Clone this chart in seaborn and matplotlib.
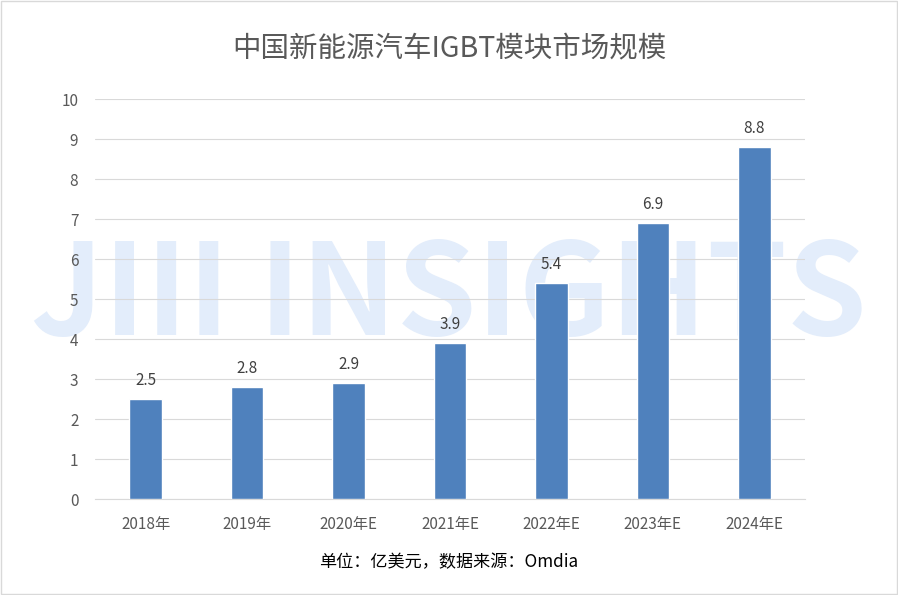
import matplotlib
matplotlib.use("Agg")
import matplotlib.pyplot as plt
import seaborn as sns
import pandas as pd

years = ["2018年", "2019年", "2020年E", "2021年E", "2022年E", "2023年E", "2024年E"]
values = [2.5, 2.8, 2.9, 3.9, 5.4, 6.9, 8.8]

sns.set_style("white")
plt.rcParams['font.family'] = ['Noto Sans CJK SC', 'DejaVu Sans']

df = pd.DataFrame({"year": years, "value": values})

fig = plt.figure(figsize=(8.98, 5.95), dpi=100)
ax = fig.add_axes([95 / 898, 96 / 595, 710 / 898, 400 / 595])

# watermark behind the bars
ax.text(0.5, 0.5, "JIII INSIGHTS", fontsize=92, fontweight="bold",
        color="#e3edfb", ha="center", va="center", zorder=0,
        transform=fig.transFigure)

sns.barplot(data=df, x="year", y="value", color="#4f81bd", saturation=1,
            width=0.32, ax=ax, zorder=3)
ax.set_ylim(0, 10)
ax.set_yticks(range(0, 11))
ax.yaxis.grid(True, color="#d9d9d9", linewidth=0.8, zorder=1)
for s in ["top", "right", "left"]:
    ax.spines[s].set_visible(False)
ax.spines["bottom"].set_color("#d9d9d9")
ax.tick_params(axis="both", length=0, labelsize=11, colors="#595959", pad=12)
ax.set_xlabel("")
ax.set_ylabel("")
for i, v in enumerate(values):
    ax.text(i, v + 0.25, f"{v}", ha="center", va="bottom", fontsize=11,
            color="#404040", zorder=4)

fig.text(0.5, 1 - 48 / 595, "中国新能源汽车IGBT模块市场规模", ha="center", va="center",
         fontsize=20.5, color="#595959")
fig.text(0.5, 1 - 562 / 595, "单位：亿美元，数据来源：Omdia", ha="center", va="center",
         fontsize=12.3, color="#000000")
fig.patches.append(plt.Rectangle((0.001, 0.001), 0.998, 0.998, transform=fig.transFigure,
                                 fill=False, edgecolor="#d9d9d9", linewidth=1))
fig.savefig("out.png", dpi=100)
